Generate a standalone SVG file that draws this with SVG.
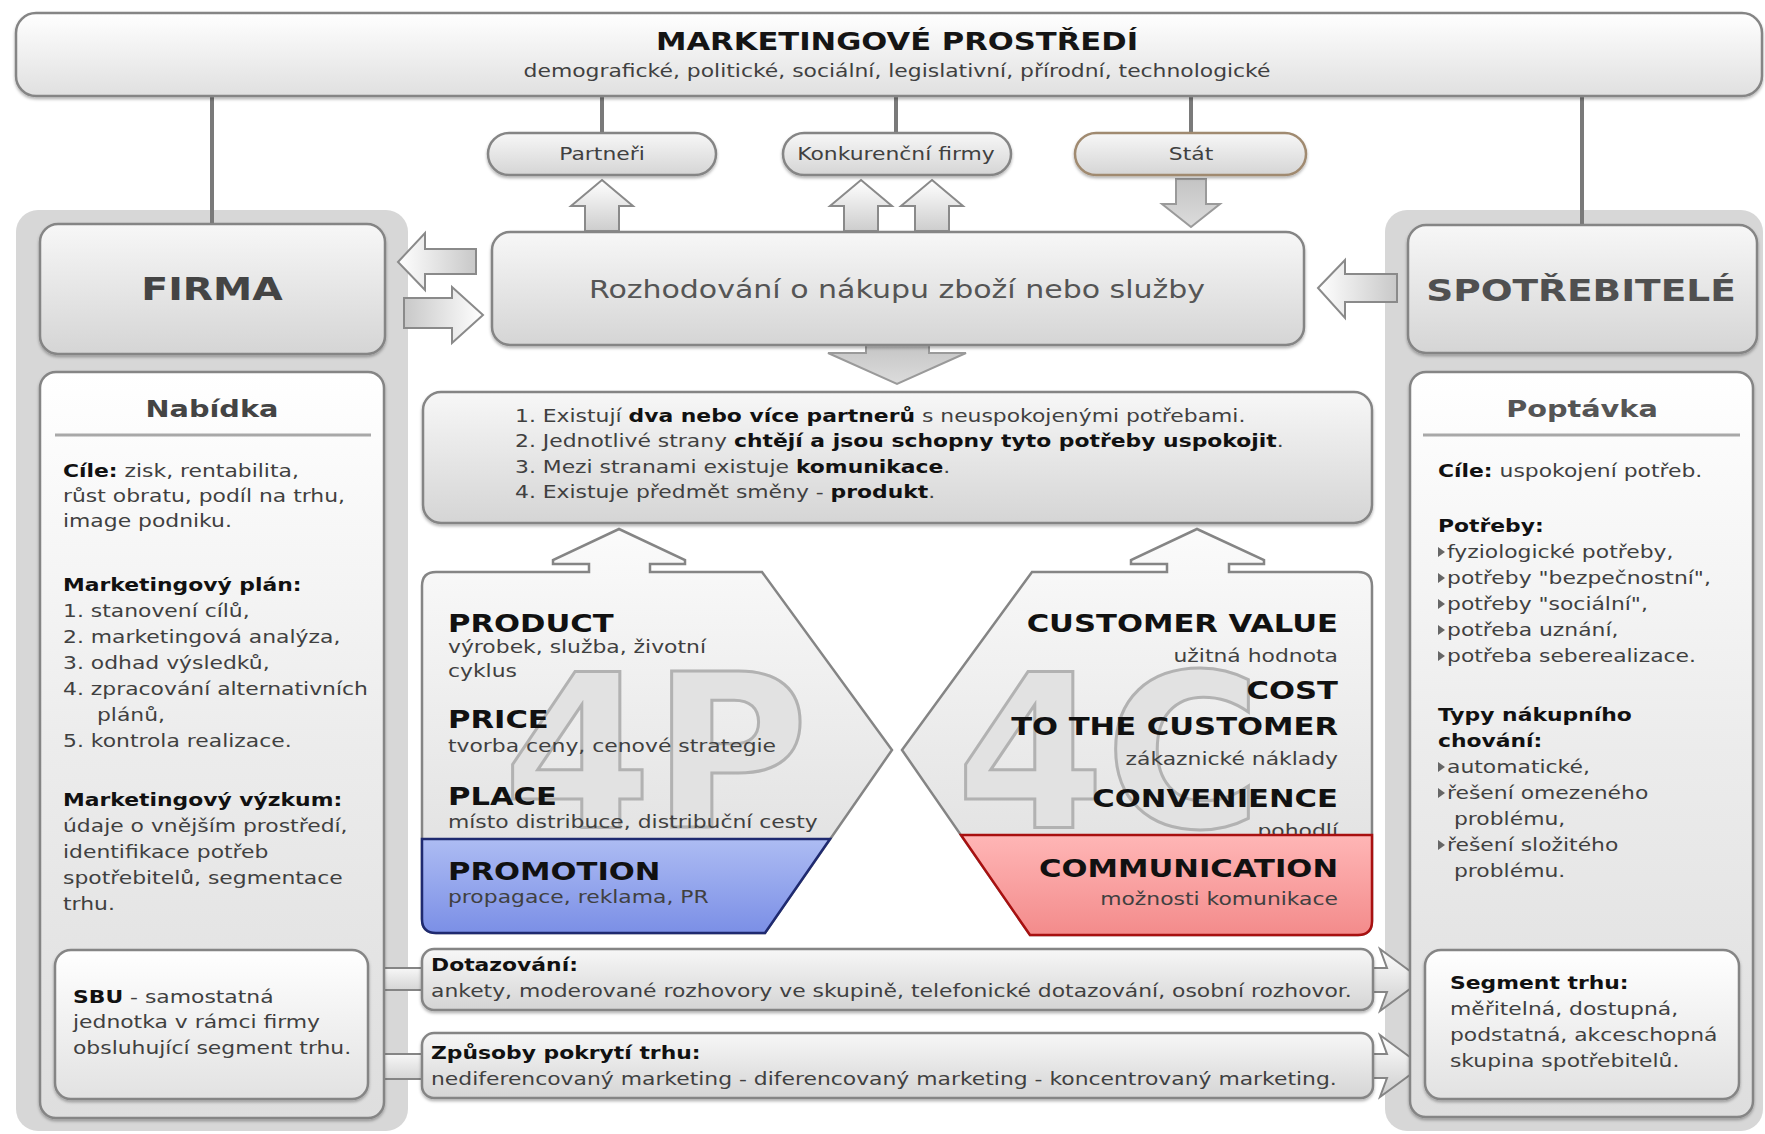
<svg xmlns="http://www.w3.org/2000/svg" width="1765" height="1134" viewBox="0 0 1765 1134">
<defs>
<style>
text{font-family:"DejaVu Sans",Verdana,sans-serif;}
.b{font-weight:bold}
.body{font-size:17.5px;fill:#404040}
.hd{font-size:17.5px;fill:#111;font-weight:bold}
.big{font-size:24.5px;font-weight:bold;fill:#111}
.box{stroke:#858585;stroke-width:2.5}
.conn{stroke:#7a7a7a;stroke-width:4;fill:none}
.arrL{fill:url(#gArr);stroke:#8a8a8a;stroke-width:2}
.arrD{fill:url(#gArrD);stroke:#9a9a9a;stroke-width:2}
</style>
<linearGradient id="gBox" x1="0" y1="0" x2="0" y2="1"><stop offset="0" stop-color="#f7f7f7"/><stop offset="1" stop-color="#d5d5d5"/></linearGradient>
<linearGradient id="gTop" x1="0" y1="0" x2="0" y2="1"><stop offset="0" stop-color="#ffffff"/><stop offset="1" stop-color="#e0e0e0"/></linearGradient>
<linearGradient id="gPanel" x1="0" y1="0" x2="0" y2="1"><stop offset="0" stop-color="#ffffff"/><stop offset="0.5" stop-color="#ececec"/><stop offset="1" stop-color="#dedede"/></linearGradient>
<linearGradient id="gWhite" x1="0" y1="0" x2="0" y2="1"><stop offset="0" stop-color="#ffffff"/><stop offset="1" stop-color="#e2e2e2"/></linearGradient>
<linearGradient id="g4" x1="0" y1="0" x2="0" y2="1"><stop offset="0" stop-color="#fbfbfb"/><stop offset="1" stop-color="#dcdcdc"/></linearGradient>
<linearGradient id="gBlue" x1="0" y1="0" x2="0" y2="1"><stop offset="0" stop-color="#adbcf3"/><stop offset="1" stop-color="#7b8fe6"/></linearGradient>
<linearGradient id="gRed" x1="0" y1="0" x2="0" y2="1"><stop offset="0" stop-color="#ffb6b6"/><stop offset="1" stop-color="#f38b8b"/></linearGradient>
<linearGradient id="gArr" x1="0" y1="0" x2="0" y2="1"><stop offset="0" stop-color="#ffffff"/><stop offset="1" stop-color="#cdcdcd"/></linearGradient>
<linearGradient id="gArrH" x1="0" y1="0" x2="1" y2="0"><stop offset="0" stop-color="#ffffff"/><stop offset="1" stop-color="#c8c8c8"/></linearGradient>
<linearGradient id="gArrHR" x1="1" y1="0" x2="0" y2="0"><stop offset="0" stop-color="#ffffff"/><stop offset="1" stop-color="#c8c8c8"/></linearGradient>
<linearGradient id="gArrD" x1="0" y1="0" x2="0" y2="1"><stop offset="0" stop-color="#c4c4c4"/><stop offset="1" stop-color="#dcdcdc"/></linearGradient>
<filter id="sh" x="-5%" y="-10%" width="110%" height="130%"><feDropShadow dx="0" dy="2" stdDeviation="1.5" flood-color="#000" flood-opacity="0.3"/></filter>
</defs>
<rect width="1765" height="1134" fill="#ffffff"/>

<!-- outer side panels -->
<g id="panel-left"><rect x="16" y="210" width="392" height="921" rx="22" fill="#d7d7d7"/></g>
<g id="panel-right"><rect x="1385" y="210" width="378" height="921" rx="22" fill="#d7d7d7"/></g>

<!-- connectors -->
<g id="connectors">
<line class="conn" x1="212" y1="95" x2="212" y2="226"/>
<line class="conn" x1="1582" y1="95" x2="1582" y2="227"/>
<line class="conn" x1="602" y1="95" x2="602" y2="134"/>
<line class="conn" x1="896" y1="95" x2="896" y2="134"/>
<line class="conn" x1="1191" y1="95" x2="1191" y2="134"/>
<path class="arrL" d="M602,180 L633,206 H619 V231 H585 V206 H571 Z"/>
<path class="arrL" d="M861,180 L892,206 H878 V231 H844 V206 H830 Z"/>
<path class="arrL" d="M932,180 L963,206 H949 V231 H915 V206 H901 Z"/>
<path class="arrD" d="M1176,179 H1206 V204 H1220 L1191,227 L1162,204 H1176 Z"/>
<path class="arrD" d="M866,343 H929 V353 H966 L897,384 L828,353 H866 Z"/>
<path fill="url(#gArrH)" stroke="#8a8a8a" stroke-width="2" d="M398,262 L425,233 V249 H476 V274 H425 V290 Z"/>
<path fill="url(#gArrHR)" stroke="#8a8a8a" stroke-width="2" d="M483,315 L452,287 V298 H404 V328 H452 V343 Z"/>
<path fill="url(#gArrH)" stroke="#8a8a8a" stroke-width="2" d="M1318,288 L1345,260 V274 H1397 V302 H1345 V318 Z"/>
<rect x="360" y="968" width="66" height="22" fill="url(#gBox)" stroke="#858585" stroke-width="2"/>
<rect x="360" y="1054" width="66" height="25" fill="url(#gBox)" stroke="#858585" stroke-width="2"/>
<path fill="url(#gArr)" stroke="#858585" stroke-width="2" d="M1366,968 H1387 L1380,949 L1422,980 L1380,1011 L1387,992 H1366 Z"/>
<path fill="url(#gArr)" stroke="#858585" stroke-width="2" d="M1366,1054 H1387 L1380,1035 L1422,1066 L1380,1097 L1387,1078 H1366 Z"/>
</g>

<!-- top environment bar -->
<g id="prostredi">
<rect class="box" x="16" y="13" width="1746" height="83" rx="20" fill="url(#gTop)" filter="url(#sh)"/>
<g transform="scale(1.25 1)">
<text x="717.6" y="50" text-anchor="middle" font-size="24.5" font-weight="bold" fill="#151515">MARKETINGOVÉ PROSTŘEDÍ</text>
<text x="717.6" y="77" text-anchor="middle" class="body" fill="#333">demografické, politické, sociální, legislativní, přírodní, technologické</text>
</g>
</g>

<g id="partneri">
<rect class="box" x="488" y="133" width="228" height="42" rx="21" fill="url(#gBox)" filter="url(#sh)"/>
<g transform="scale(1.25 1)"><text x="481.6" y="160" text-anchor="middle" class="body" fill="#333">Partneři</text></g>
</g>
<g id="konkurence">
<rect class="box" x="783" y="133" width="228" height="42" rx="21" fill="url(#gBox)" filter="url(#sh)"/>
<g transform="scale(1.25 1)"><text x="716.8" y="160" text-anchor="middle" class="body" fill="#333">Konkurenční firmy</text></g>
</g>
<g id="stat">
<rect x="1075" y="133" width="231" height="42" rx="21" fill="url(#gBox)" stroke="#a08a70" stroke-width="2.5" filter="url(#sh)"/>
<g transform="scale(1.25 1)"><text x="952.8" y="160" text-anchor="middle" class="body" fill="#333">Stát</text></g>
</g>

<g id="firma">
<rect class="box" x="40" y="224" width="345" height="130" rx="18" fill="url(#gBox)" filter="url(#sh)"/>
<g transform="scale(1.25 1)"><text x="169.6" y="300" text-anchor="middle" font-size="31.5" font-weight="bold" fill="#444">FIRMA</text></g>
</g>

<g id="spotrebitele">
<rect class="box" x="1408" y="225" width="349" height="128" rx="18" fill="url(#gBox)" filter="url(#sh)"/>
<g transform="scale(1.25 1)"><text x="1264.8" y="301" text-anchor="middle" font-size="30" font-weight="bold" fill="#505050">SPOTŘEBITELÉ</text></g>
</g>

<g id="rozhodovani">
<rect class="box" x="492" y="232" width="812" height="113" rx="18" fill="url(#gBox)" filter="url(#sh)"/>
<g transform="scale(1.25 1)"><text x="717.6" y="298" text-anchor="middle" font-size="24" fill="#555">Rozhodování o nákupu zboží nebo služby</text></g>
</g>

<g id="podminky">
<rect class="box" x="423" y="392" width="949" height="131" rx="18" fill="url(#gBox)" filter="url(#sh)"/>
<g transform="scale(1.25 1)" class="body">
<text x="412" y="422" class="body">1. Existují <tspan class="b" fill="#111">dva nebo více partnerů</tspan> s neuspokojenými potřebami.</text>
<text x="412" y="447.5" class="body">2. Jednotlivé strany <tspan class="b" fill="#111">chtějí a jsou schopny tyto potřeby uspokojit</tspan>.</text>
<text x="412" y="473" class="body">3. Mezi stranami existuje <tspan class="b" fill="#111">komunikace</tspan>.</text>
<text x="412" y="498.5" class="body">4. Existuje předmět směny - <tspan class="b" fill="#111">produkt</tspan>.</text>
</g>
</g>

<g id="nabidka">
<rect class="box" x="40" y="372" width="344" height="746" rx="16" fill="url(#gPanel)" filter="url(#sh)"/>
<line x1="55" y1="435" x2="371" y2="435" stroke="#a8a8a8" stroke-width="3"/>
<g transform="scale(1.25 1)">
<text x="169.6" y="417" text-anchor="middle" font-size="23" font-weight="bold" fill="#444">Nabídka</text>
<text x="50.4" y="477" class="body"><tspan class="b" fill="#111">Cíle:</tspan> zisk, rentabilita,</text>
<text x="50.4" y="502" class="body">růst obratu, podíl na trhu,</text>
<text x="50.4" y="527" class="body">image podniku.</text>
<text x="50.4" y="591" class="hd">Marketingový plán:</text>
<text x="50.4" y="617" class="body">1. stanovení cílů,</text>
<text x="50.4" y="643" class="body">2. marketingová analýza,</text>
<text x="50.4" y="669" class="body">3. odhad výsledků,</text>
<text x="50.4" y="695" class="body">4. zpracování alternativních</text>
<text x="77.6" y="721" class="body">plánů,</text>
<text x="50.4" y="747" class="body">5. kontrola realizace.</text>
<text x="50.4" y="806" class="hd">Marketingový výzkum:</text>
<text x="50.4" y="832" class="body">údaje o vnějším prostředí,</text>
<text x="50.4" y="858" class="body">identifikace potřeb</text>
<text x="50.4" y="884" class="body">spotřebitelů, segmentace</text>
<text x="50.4" y="910" class="body">trhu.</text>
</g>
</g>

<g id="sbu">
<rect class="box" x="55" y="950" width="313" height="149" rx="16" fill="url(#gWhite)" filter="url(#sh)"/>
<g transform="scale(1.25 1)">
<text x="58.4" y="1003" class="body"><tspan class="b" fill="#111">SBU</tspan> - samostatná</text>
<text x="58.4" y="1028" class="body">jednotka v rámci firmy</text>
<text x="58.4" y="1054" class="body">obsluhující segment trhu.</text>
</g>
</g>

<g id="poptavka">
<rect class="box" x="1410" y="372" width="343" height="745" rx="16" fill="url(#gPanel)" filter="url(#sh)"/>
<line x1="1423" y1="435" x2="1740" y2="435" stroke="#a8a8a8" stroke-width="3"/>
<g fill="#666">
<polygon points="1438,547 1445,552 1438,557"/>
<polygon points="1438,573 1445,578 1438,583"/>
<polygon points="1438,599 1445,604 1438,609"/>
<polygon points="1438,625 1445,630 1438,635"/>
<polygon points="1438,651 1445,656 1438,661"/>
<polygon points="1438,762 1445,767 1438,772"/>
<polygon points="1438,788 1445,793 1438,798"/>
<polygon points="1438,840 1445,845 1438,850"/>
</g>
<g transform="scale(1.25 1)">
<text x="1265.6" y="417" text-anchor="middle" font-size="23" font-weight="bold" fill="#555">Poptávka</text>
<text x="1150.4" y="477" class="body"><tspan class="b" fill="#111">Cíle:</tspan> uspokojení potřeb.</text>
<text x="1150.4" y="532" class="hd">Potřeby:</text>
<text x="1157.6" y="558" class="body">fyziologické potřeby,</text>
<text x="1157.6" y="584" class="body">potřeby "bezpečnostní",</text>
<text x="1157.6" y="610" class="body">potřeby "sociální",</text>
<text x="1157.6" y="636" class="body">potřeba uznání,</text>
<text x="1157.6" y="662" class="body">potřeba seberealizace.</text>
<text x="1150.4" y="721" class="hd">Typy nákupního</text>
<text x="1150.4" y="747" class="hd">chování:</text>
<text x="1157.6" y="773" class="body">automatické,</text>
<text x="1157.6" y="799" class="body">řešení omezeného</text>
<text x="1163.2" y="825" class="body">problému,</text>
<text x="1157.6" y="851" class="body">řešení složitého</text>
<text x="1163.2" y="877" class="body">problému.</text>
</g>
</g>

<g id="segment">
<rect class="box" x="1425" y="950" width="314" height="149" rx="16" fill="url(#gWhite)" filter="url(#sh)"/>
<g transform="scale(1.25 1)">
<text x="1160" y="989" class="hd">Segment trhu:</text>
<text x="1160" y="1015" class="body" fill="#222">měřitelná, dostupná,</text>
<text x="1160" y="1041" class="body" fill="#222">podstatná, akceschopná</text>
<text x="1160" y="1067" class="body" fill="#222">skupina spotřebitelů.</text>
</g>
</g>

<g id="marketing-4p">
<path class="box" fill="url(#g4)" d="M436,572 H589 V564 H553 V560 L619,529 L685,560 V564 H650 V572 H762 L892,750 L765,933 H436 Q422,933 422,919 V586 Q422,572 436,572 Z"/>
<text x="503" y="827" font-size="214" font-weight="bold" fill="#e2e2e2" stroke="#b2b2b2" stroke-width="3">4P</text>
<g transform="scale(1.25 1)">
<text x="358.4" y="632" class="big">PRODUCT</text>
<text x="358.4" y="653" class="body" fill="#333">výrobek, služba, životní</text>
<text x="358.4" y="677" class="body" fill="#333">cyklus</text>
<text x="358.4" y="728" class="big">PRICE</text>
<text x="358.4" y="752" class="body" fill="#333">tvorba ceny, cenové strategie</text>
<text x="358.4" y="805" class="big">PLACE</text>
<text x="358.4" y="828" class="body" fill="#333">místo distribuce, distribuční cesty</text>
</g>
<path fill="url(#gBlue)" stroke="#1f2a70" stroke-width="2.5" d="M422,839 H830 L765,933 H436 Q422,933 422,919 Z"/>
<g transform="scale(1.25 1)">
<text x="358.4" y="880" class="big" fill="#1a2470">PROMOTION</text>
<text x="358.4" y="903" class="body" fill="#2a3060">propagace, reklama, PR</text>
</g>
</g>

<g id="marketing-4c">
<path class="box" fill="url(#g4)" d="M902,750 L1032,572 H1167 V564 H1131 V560 L1197,529 L1264,560 V564 H1229 V572 H1358 Q1372,572 1372,586 V921 Q1372,935 1358,935 H1030 Z"/>
<text x="956" y="827" font-size="214" font-weight="bold" fill="#e2e2e2" stroke="#b2b2b2" stroke-width="3">4C</text>
<g transform="scale(1.25 1)" text-anchor="end">
<text x="1070.4" y="632" class="big">CUSTOMER VALUE</text>
<text x="1070.4" y="662" class="body" fill="#333">užitná hodnota</text>
<text x="1070.4" y="699" class="big">COST</text>
<text x="1070.4" y="735" class="big">TO THE CUSTOMER</text>
<text x="1070.4" y="765" class="body" fill="#333">zákaznické náklady</text>
<text x="1070.4" y="807" class="big">CONVENIENCE</text>
<text x="1070.4" y="837" class="body" fill="#333">pohodlí</text>
</g>
<path fill="url(#gRed)" stroke="#a81010" stroke-width="2.5" d="M961,835 H1372 V921 Q1372,935 1358,935 H1030 Z"/>
<g transform="scale(1.25 1)" text-anchor="end">
<text x="1070.4" y="877" class="big" fill="#d40000">COMMUNICATION</text>
<text x="1070.4" y="905" class="body" fill="#333">možnosti komunikace</text>
</g>
</g>

<g id="dotazovani">
<rect class="box" x="422" y="949" width="951" height="61" rx="12" fill="url(#gBox)" filter="url(#sh)"/>
<g transform="scale(1.25 1)">
<text x="344.8" y="971" class="hd">Dotazování:</text>
<text x="344.8" y="997" class="body" fill="#333">ankety, moderované rozhovory ve skupině, telefonické dotazování, osobní rozhovor.</text>
</g>
</g>

<g id="pokryti">
<rect class="box" x="422" y="1033" width="951" height="65" rx="12" fill="url(#gBox)" filter="url(#sh)"/>
<g transform="scale(1.25 1)">
<text x="344.8" y="1059" class="hd">Způsoby pokrytí trhu:</text>
<text x="344.8" y="1085" class="body" fill="#333">nediferencovaný marketing - diferencovaný marketing - koncentrovaný marketing.</text>
</g>
</g>
</svg>
